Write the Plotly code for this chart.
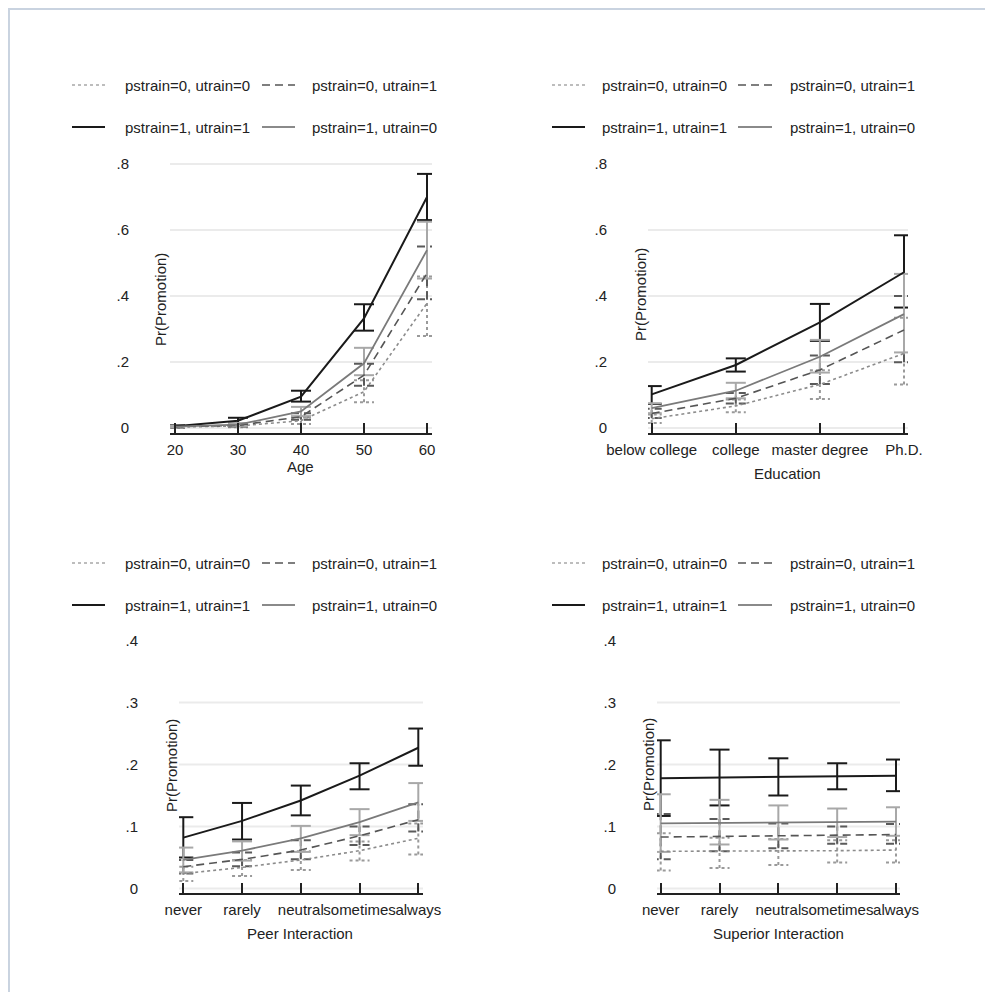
import plotly.graph_objects as go

# ---------------- data ----------------
series_names = ["pstrain=0, utrain=0", "pstrain=0, utrain=1",
                "pstrain=1, utrain=1", "pstrain=1, utrain=0"]

# Panel 1: Age
age_x = [20, 30, 40, 50, 60]
age_s00 = [0.003, 0.006, 0.022, 0.110, 0.378]
age_s00_lo = [0.001, 0.002, 0.012, 0.078, 0.279]
age_s00_hi = [0.005, 0.010, 0.032, 0.145, 0.459]
age_s01 = [0.004, 0.008, 0.034, 0.160, 0.469]
age_s01_lo = [0.002, 0.004, 0.025, 0.128, 0.390]
age_s01_hi = [0.006, 0.012, 0.045, 0.195, 0.550]
age_s11 = [0.005, 0.022, 0.095, 0.332, 0.700]
age_s11_lo = [0.002, 0.013, 0.080, 0.295, 0.630]
age_s11_hi = [0.008, 0.031, 0.113, 0.375, 0.770]
age_s10 = [0.004, 0.010, 0.050, 0.196, 0.539]
age_s10_lo = [0.002, 0.005, 0.036, 0.160, 0.453]
age_s10_hi = [0.006, 0.015, 0.064, 0.243, 0.625]

# Panel 2: Education
edu_cats = ["below college", "college", "master degree", "Ph.D."]
edu_s00 = [0.028, 0.067, 0.132, 0.226]
edu_s00_lo = [0.015, 0.048, 0.088, 0.132]
edu_s00_hi = [0.041, 0.086, 0.175, 0.334]
edu_s01 = [0.044, 0.090, 0.176, 0.297]
edu_s01_lo = [0.030, 0.074, 0.133, 0.199]
edu_s01_hi = [0.058, 0.106, 0.220, 0.400]
edu_s11 = [0.102, 0.191, 0.320, 0.472]
edu_s11_lo = [0.073, 0.171, 0.264, 0.365]
edu_s11_hi = [0.127, 0.211, 0.376, 0.584]
edu_s10 = [0.060, 0.113, 0.216, 0.345]
edu_s10_lo = [0.045, 0.090, 0.168, 0.229]
edu_s10_hi = [0.075, 0.137, 0.267, 0.467]

# Panel 3: Peer Interaction
freq_cats = ["never", "rarely", "neutral", "sometimes", "always"]
peer_s00 = [0.024, 0.034, 0.046, 0.061, 0.081]
peer_s00_lo = [0.012, 0.020, 0.030, 0.045, 0.055]
peer_s00_hi = [0.035, 0.046, 0.060, 0.076, 0.105]
peer_s01 = [0.035, 0.047, 0.062, 0.085, 0.111]
peer_s01_lo = [0.024, 0.036, 0.047, 0.070, 0.092]
peer_s01_hi = [0.046, 0.058, 0.078, 0.100, 0.136]
peer_s11 = [0.082, 0.109, 0.142, 0.182, 0.227]
peer_s11_lo = [0.050, 0.079, 0.118, 0.160, 0.198]
peer_s11_hi = [0.115, 0.138, 0.166, 0.202, 0.258]
peer_s10 = [0.046, 0.061, 0.081, 0.107, 0.139]
peer_s10_lo = [0.026, 0.045, 0.059, 0.086, 0.109]
peer_s10_hi = [0.066, 0.076, 0.101, 0.128, 0.170]

# Panel 4: Superior Interaction
sup_s00 = [0.060, 0.060, 0.061, 0.061, 0.062]
sup_s00_lo = [0.029, 0.033, 0.038, 0.042, 0.042]
sup_s00_hi = [0.089, 0.082, 0.080, 0.078, 0.078]
sup_s01 = [0.083, 0.084, 0.085, 0.086, 0.087]
sup_s01_lo = [0.047, 0.060, 0.065, 0.072, 0.072]
sup_s01_hi = [0.120, 0.112, 0.105, 0.100, 0.104]
sup_s11 = [0.178, 0.179, 0.180, 0.181, 0.182]
sup_s11_lo = [0.117, 0.134, 0.150, 0.160, 0.157]
sup_s11_hi = [0.239, 0.224, 0.210, 0.202, 0.208]
sup_s10 = [0.105, 0.106, 0.107, 0.107, 0.108]
sup_s10_lo = [0.059, 0.071, 0.079, 0.083, 0.085]
sup_s10_hi = [0.152, 0.143, 0.134, 0.129, 0.131]

ytick_top = [0, 0.2, 0.4, 0.6, 0.8]
ytext_top = ["0", ".2", ".4", ".6", ".8"]
ytick_bot = [0, 0.1, 0.2, 0.3, 0.4]
ytext_bot = ["0", ".1", ".2", ".3", ".4"]

# ---------------- layout geometry (page pixels) ----------------
W, H, OFF = 977, 984, 8
def xd(X):
    return (X - OFF) / W
def yd(Y):
    return 1 - (Y - OFF) / H

FONT = "Liberation Sans, Arial, sans-serif"
TXT = "#222222"

styles = [
    dict(line=dict(color="#8c8c8c", width=1.6, dash="dot"), ci="#9a9a9a", cidash="dot", leg="#a8a8a8"),
    dict(line=dict(color="#555555", width=1.6, dash="8px,5px"), ci="#5a5a5a", cidash="8px,5px", leg="#555555"),
    dict(line=dict(color="#1a1a1a", width=2), ci="#1a1a1a", cidash="solid", leg="#1a1a1a"),
    dict(line=dict(color="#7a7a7a", width=1.8), ci="#a8a8a8", cidash="solid", leg="#8a8a8a"),
]

panels = [
    dict(ax="", X0=170, X1=432, Yt=160, Yb=433, zeroY=428, scale=330,
         xvals=age_x, xlabels=[str(v) for v in age_x], p0=175, p1=427,
         data=[(age_s00, age_s00_lo, age_s00_hi), (age_s01, age_s01_lo, age_s01_hi),
               (age_s11, age_s11_lo, age_s11_hi), (age_s10, age_s10_lo, age_s10_hi)],
         yt=ytick_top, ytt=ytext_top, grid=[0, 0.2, 0.4, 0.6, 0.8],
         xtitle="Age", xtX=300, xtY=466, ytX=160, ytY=300,
         leg=dict(c1=(72, 105, 123), c2=(262, 295, 310), r=(85, 127))),
    dict(ax="2", X0=648, X1=908, Yt=160, Yb=433, zeroY=428, scale=330,
         xvals=list(range(len(edu_cats))), xlabels=edu_cats, p0=651.7, p1=904,
         data=[(edu_s00, edu_s00_lo, edu_s00_hi), (edu_s01, edu_s01_lo, edu_s01_hi),
               (edu_s11, edu_s11_lo, edu_s11_hi), (edu_s10, edu_s10_lo, edu_s10_hi)],
         yt=ytick_top, ytt=ytext_top, grid=[0, 0.2, 0.4, 0.6],
         xtitle="Education", xtX=787, xtY=473, ytX=640, ytY=295,
         leg=dict(c1=(552, 585, 600), c2=(738, 772, 788), r=(85, 127))),
    dict(ax="3", X0=179, X1=423, Yt=636, Yb=893, zeroY=888.5, scale=620,
         xvals=list(range(len(freq_cats))), xlabels=freq_cats, p0=183.3, p1=418.3,
         data=[(peer_s00, peer_s00_lo, peer_s00_hi), (peer_s01, peer_s01_lo, peer_s01_hi),
               (peer_s11, peer_s11_lo, peer_s11_hi), (peer_s10, peer_s10_lo, peer_s10_hi)],
         yt=ytick_bot, ytt=ytext_bot, grid=[0, 0.1, 0.2, 0.3],
         xtitle="Peer Interaction", xtX=300, xtY=933, ytX=171, ytY=766,
         leg=dict(c1=(72, 105, 123), c2=(262, 295, 310), r=(563, 605))),
    dict(ax="4", X0=657, X1=900, Yt=636, Yb=893, zeroY=888.5, scale=620,
         xvals=list(range(len(freq_cats))), xlabels=freq_cats, p0=660.7, p1=896,
         data=[(sup_s00, sup_s00_lo, sup_s00_hi), (sup_s01, sup_s01_lo, sup_s01_hi),
               (sup_s11, sup_s11_lo, sup_s11_hi), (sup_s10, sup_s10_lo, sup_s10_hi)],
         yt=ytick_bot, ytt=ytext_bot, grid=[0, 0.1, 0.2, 0.3],
         xtitle="Superior Interaction", xtX=778, xtY=933, ytX=648, ytY=765,
         leg=dict(c1=(552, 585, 600), c2=(738, 772, 788), r=(563, 605))),
]

fig = go.Figure()
shapes = []
annotations = []
layout = {}

for p in panels:
    ax = p["ax"]
    xv = p["xvals"]
    n0, n1 = xv[0], xv[-1]
    sc = (p["p1"] - p["p0"]) / (n1 - n0)
    xr = [n0 - (p["p0"] - p["X0"]) / sc, n1 + (p["X1"] - p["p1"]) / sc]
    yr = [(p["zeroY"] - p["Yb"]) / p["scale"], (p["zeroY"] - p["Yt"]) / p["scale"]]
    capw = 10 / sc

    layout["xaxis" + ax] = dict(
        domain=[xd(p["X0"]), xd(p["X1"])], range=xr, anchor="y" + ax,
        tickmode="array", tickvals=xv, ticktext=p["xlabels"], tickangle=0,
        showline=True, linecolor="#222222", linewidth=1.6,
        ticks="inside", ticklen=10, tickwidth=1.6, tickcolor="#222222",
        showgrid=False, zeroline=False, ticklabelstandoff=2, automargin=False,
        tickfont=dict(family=FONT, size=15, color=TXT), fixedrange=True)
    layout["yaxis" + ax] = dict(
        domain=[yd(p["Yb"]), yd(p["Yt"])], range=yr, anchor="x" + ax,
        tickmode="array", tickvals=p["yt"], ticktext=p["ytt"],
        showline=False, showgrid=False, zeroline=False, ticks="",
        ticklabelstandoff=40, automargin=False,
        tickfont=dict(family=FONT, size=15, color=TXT), fixedrange=True)

    for g in p["grid"]:
        shapes.append(dict(type="line", xref=f"x{ax} domain", yref=f"y{ax}",
                           x0=0, x1=1, y0=g, y1=g, layer="below",
                           line=dict(color="#ebebeb", width=2)))

    for (mean, lo, hi), st in zip(p["data"], styles):
        xs, ys = [], []
        for x, l, h in zip(xv, lo, hi):
            xs += [x, x, None, x - capw, x + capw, None, x - capw, x + capw, None]
            ys += [l, h, None, h, h, None, l, l, None]
        fig.add_trace(go.Scatter(x=xs, y=ys, mode="lines", xaxis="x" + ax, yaxis="y" + ax,
                                 line=dict(color=st["ci"], width=2, dash=st["cidash"]),
                                 showlegend=False, hoverinfo="skip"))
    for (mean, lo, hi), st, nm in zip(p["data"], styles, series_names):
        fig.add_trace(go.Scatter(x=xv, y=mean, mode="lines", xaxis="x" + ax, yaxis="y" + ax,
                                 line=st["line"], name=nm, showlegend=False))

    annotations.append(dict(text=p["xtitle"], xref="paper", yref="paper",
                            x=xd(p["xtX"]), y=yd(p["xtY"]), showarrow=False,
                            xanchor="center", yanchor="middle",
                            font=dict(family=FONT, size=15, color=TXT)))
    annotations.append(dict(text="Pr(Promotion)", xref="paper", yref="paper",
                            x=xd(p["ytX"]), y=yd(p["ytY"]), showarrow=False, textangle=-90,
                            xanchor="center", yanchor="middle",
                            font=dict(family=FONT, size=15, color=TXT)))

    # legend (manual, 2x2)
    lg = p["leg"]
    entries = [(0, lg["c1"], lg["r"][0]), (1, lg["c2"], lg["r"][0]),
               (2, lg["c1"], lg["r"][1]), (3, lg["c2"], lg["r"][1])]
    for si, (sx0, sx1, tx), ry in entries:
        st = styles[si]
        shapes.append(dict(type="line", xref="paper", yref="paper",
                           x0=xd(sx0), x1=xd(sx1), y0=yd(ry), y1=yd(ry),
                           line=dict(color=st["leg"], width=2 if si >= 2 else 1.6,
                                     dash=st["line"].get("dash", "solid"))))
        annotations.append(dict(text=series_names[si], xref="paper", yref="paper",
                                x=xd(tx), y=yd(ry), showarrow=False,
                                xanchor="left", yanchor="middle",
                                font=dict(family=FONT, size=15, color=TXT)))

# outer frame (top & left light border)
shapes.append(dict(type="line", xref="paper", yref="paper", x0=0, x1=1, y0=0.999, y1=0.999,
                   line=dict(color="#c9d3e0", width=2)))
shapes.append(dict(type="line", xref="paper", yref="paper", x0=0.001, x1=0.001, y0=0, y1=1,
                   line=dict(color="#c9d3e0", width=2)))

fig.update_layout(
    width=W, height=H, margin=dict(l=0, r=0, t=0, b=0, pad=0, autoexpand=False),
    paper_bgcolor="white", plot_bgcolor="white",
    shapes=shapes, annotations=annotations, showlegend=False,
    font=dict(family=FONT, size=15, color=TXT),
    **layout)

fig.write_html("out.html")
